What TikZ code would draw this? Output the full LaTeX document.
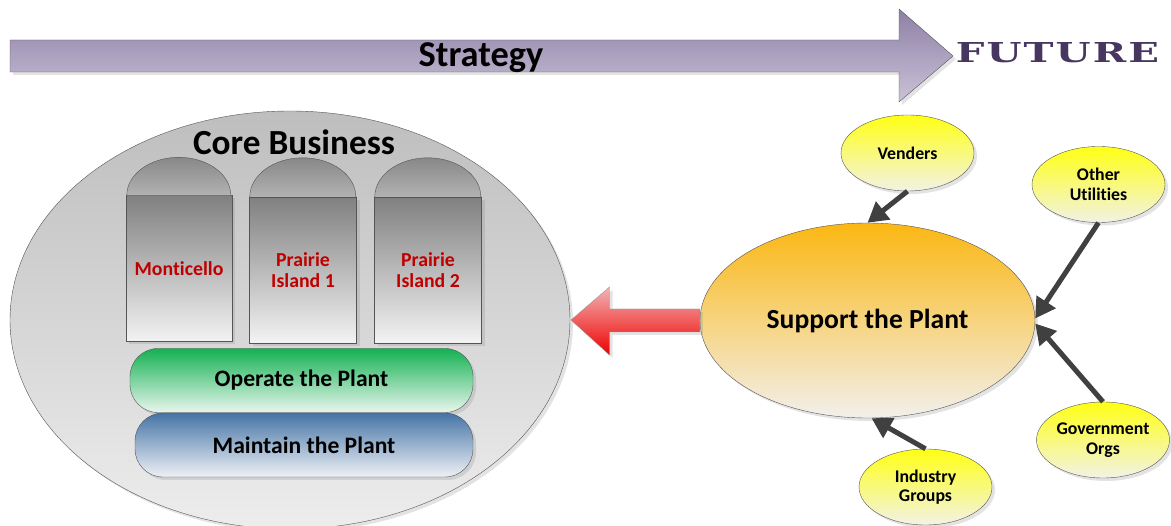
\documentclass[tikz,border=0pt]{standalone}
\usepackage{fontspec}
\usepackage{graphicx}
\setmainfont[Ligatures=NoCommon]{Carlito}
\newfontfamily\futurefont[LetterSpace=5]{DejaVu Serif}
\usetikzlibrary{shadows,arrows.meta,shapes.geometric}
\definecolor{stratTop}{HTML}{8E80A6}
\definecolor{stratBot}{HTML}{CAC2D8}
\definecolor{futureC}{HTML}{473660}
\definecolor{coreTop}{HTML}{BEBEBE}
\definecolor{coreBot}{HTML}{EDEDED}
\definecolor{tombTop}{HTML}{808080}
\definecolor{tombBot}{HTML}{F3F3F3}
\definecolor{domeTop}{HTML}{888888}
\definecolor{domeBot}{HTML}{B2B2B2}
\definecolor{plantRed}{HTML}{C00000}
\definecolor{opTop}{HTML}{14B152}
\definecolor{opBot}{HTML}{E9F6EE}
\definecolor{mtTop}{HTML}{4574A6}
\definecolor{mtBot}{HTML}{EEF1F5}
\definecolor{redTop}{HTML}{F3B4B4}
\definecolor{redBot}{HTML}{EE0000}
\definecolor{supTop}{HTML}{FBB712}
\definecolor{supBot}{HTML}{F2F0EC}
\definecolor{ylwTop}{HTML}{FFFF14}
\definecolor{ylwBot}{HTML}{F2F2E6}
\definecolor{lineC}{HTML}{555555}
\definecolor{connC}{HTML}{404040}
\tikzset{
  shade/.style={drop shadow={shadow xshift=3pt,shadow yshift=-3pt,opacity=0.22}},
  tomb/.style={draw=lineC,top color=tombTop,bottom color=tombBot,minimum height=146pt,inner sep=0pt,
    text=plantRed,font=\fontsize{19.8}{21}\selectfont\bfseries,align=center},
  dome/.style={draw=lineC,top color=domeTop,bottom color=domeBot},
  band/.style={draw=lineC,rounded corners=28pt,minimum height=64pt,font=\fontsize{23.6}{25}\selectfont\bfseries,inner sep=0pt},
  smallel/.style={ellipse,draw=lineC,top color=ylwTop,bottom color=ylwBot,minimum width=133pt,minimum height=76pt,
    inner sep=0pt,align=center,font=\fontsize{17.8}{19.5}\selectfont\bfseries,shade},
  conn/.style={draw=connC,line width=5pt,-{Triangle[length=20pt,width=22pt]}}
}
\begin{document}
\begin{tikzpicture}[x=1pt,y=-1pt]
\useasboundingbox (0,0) rectangle (1171,526);
% strategy arrow
\path[draw=lineC,top color=stratTop,bottom color=stratBot,shade]
  (10,40) -- (899,40) -- (899,9) -- (953,56) -- (899,102) -- (899,72) -- (10,72) -- cycle;
\node[font=\fontsize{36.4}{38}\selectfont\bfseries] (strategy) at (481,58) {Strategy};
\node[inner sep=0pt,text=futureC] (future) at (1057.5,53)
  {\resizebox{203pt}{20pt}{\futurefont\bfseries FUTURE}};
% core business
\node[ellipse,draw=lineC,top color=coreTop,bottom color=coreBot,minimum width=560pt,minimum height=418pt,shade] (core) at (290,320) {};
\node[font=\fontsize{35.3}{37}\selectfont\bfseries] (corelbl) at (294,142) {Core Business};
% tombstones
\node[tomb,minimum width=106pt,shade] (mont) at (179,268.5) {Monticello};
\node[tomb,minimum width=107pt,shade] (pi1) at (303,270) {Prairie\\Island 1};
\node[tomb,minimum width=107pt,shade] (pi2) at (428,270) {Prairie\\Island 2};
\path[dome] (mont.north west) ++(1,0) arc[start angle=180,end angle=360,x radius=52,y radius=38];
\path[dome] (pi1.north west) ++(0.5,0) arc[start angle=180,end angle=360,x radius=53,y radius=39];
\path[dome] (pi2.north west) ++(0.5,0) arc[start angle=180,end angle=360,x radius=53,y radius=39];
% bands
\node[band,top color=opTop,bottom color=opBot,minimum width=343pt,shade] (op) at (301.5,380.5) {Operate the Plant};
\node[band,top color=mtTop,bottom color=mtBot,minimum width=338pt,shade] (mt) at (304,445) {Maintain the Plant};
% support
\node[ellipse,draw=lineC,top color=supTop,bottom color=supBot,minimum width=335pt,minimum height=195pt,
  font=\fontsize{27.6}{29}\selectfont\bfseries,shade] (sup) at (867.5,320.5) {Support the Plant};
% red arrow
\path[draw=lineC!60,top color=redTop,bottom color=redBot,shade]
  ([yshift=11.5pt]sup.west) -- (609.5,309) -- (609.5,287) -- (571,320) -- (609.5,355) -- (609.5,332) -- ([yshift=-11.5pt]sup.west) -- cycle;
% small ellipses
\node[smallel] (vend) at (907.5,153) {Venders};
\node[smallel] (oth) at (1098.5,184.5) {Other\\Utilities};
\node[smallel] (gov) at (1103,440) {Government\\Orgs};
\node[smallel] (ind) at (925.5,487) {Industry\\Groups};
% connectors
\draw[conn] (vend.south) -- (sup.north);
\draw[conn] (oth.south) -- ([yshift=2pt]sup.east);
\draw[conn] (gov.north) -- ([yshift=-3pt]sup.east);
\draw[conn] (ind.north) -- ([xshift=4pt]sup.south);
\end{tikzpicture}
\end{document}
